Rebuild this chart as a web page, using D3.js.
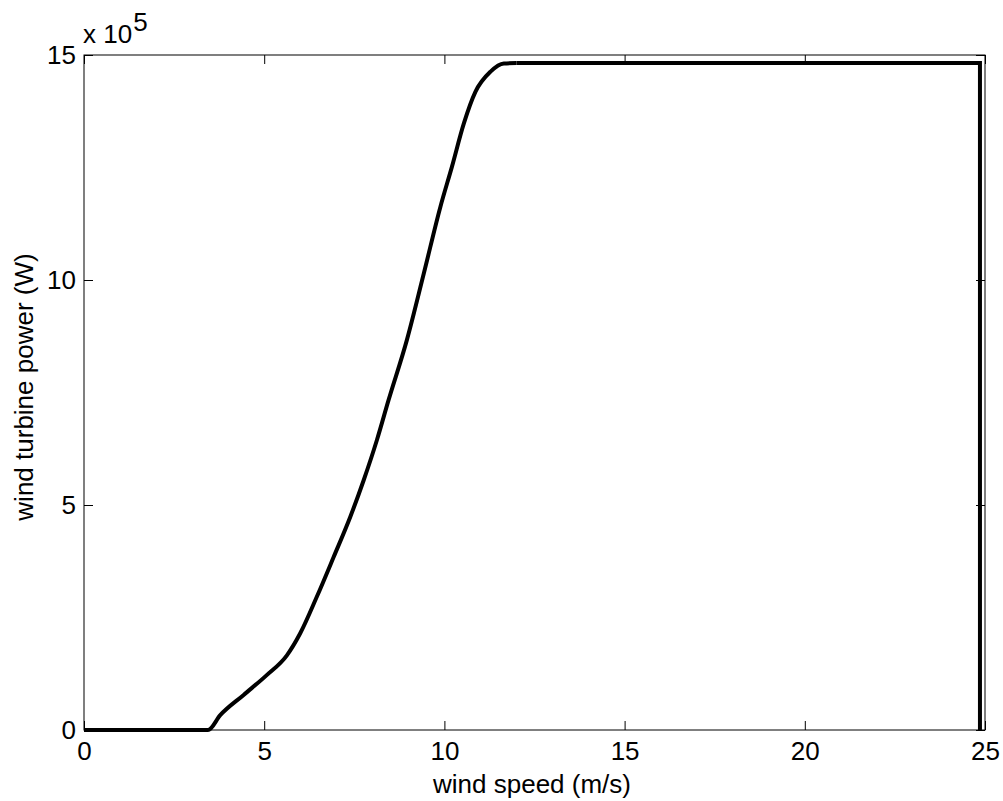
<!DOCTYPE html>
<html>
<head>
<meta charset="utf-8">
<script src="https://cdn.jsdelivr.net/npm/d3@7/dist/d3.min.js"></script>
<style>
  html, body { margin: 0; padding: 0; background: #fff; }
  svg { display: block; }
  text { font-family: "Liberation Sans", Arial, Helvetica, sans-serif; fill: #000; }
</style>
</head>
<body>
<svg id="chart" width="1003" height="801"></svg>
<script>
// ---- data ----
const windSpeed = [0, 3.44, 3.78, 4.43, 5.07, 5.63, 6.0, 6.46, 6.93, 7.39, 7.76, 8.13, 8.45, 8.96, 9.43, 9.89, 10.21, 10.54, 10.86, 11.28, 11.65, 12.0, 24.86, 24.86];
const powerW    = [0, 0, 0.33e5, 0.78e5, 1.22e5, 1.66e5, 2.15e5, 2.96e5, 3.85e5, 4.74e5, 5.55e5, 6.45e5, 7.33e5, 8.67e5, 10.15e5, 11.63e5, 12.52e5, 13.48e5, 14.18e5, 14.63e5, 14.81e5, 14.82e5, 14.82e5, 0];
const xTicks = [0, 5, 10, 15, 20, 25];
const yTicks = [0, 5e5, 10e5, 15e5];
const xLabel = "wind speed (m/s)";
const yLabel = "wind turbine power (W)";

const svg = d3.select("#chart");
const L = 84, R = 985, T = 55, B = 730;
const fs = 26;

const x = d3.scaleLinear().domain([0, 25]).range([L, R]);
const y = d3.scaleLinear().domain([0, 15e5]).range([B, T]);

// box
svg.append("rect").attr("x", L).attr("y", T).attr("width", R - L).attr("height", B - T)
  .attr("fill", "none").attr("stroke", "#000").attr("stroke-width", 1);

const styleAxis = g => {
  g.select(".domain").remove();
  g.selectAll(".tick line").attr("stroke", "#000").attr("stroke-width", 1);
  g.selectAll("text").attr("font-size", fs).attr("font-family", '"Liberation Sans", Arial, sans-serif').attr("fill", "#000");
};

svg.append("g").attr("transform", `translate(0,${B})`)
  .call(d3.axisBottom(x).tickValues(xTicks).tickSize(-9).tickPadding(12).tickFormat(d3.format("d")))
  .call(styleAxis);
svg.append("g").attr("transform", `translate(0,${T})`)
  .call(d3.axisTop(x).tickValues(xTicks).tickSize(-9).tickFormat(""))
  .call(styleAxis);
svg.append("g").attr("transform", `translate(${L},0)`)
  .call(d3.axisLeft(y).tickValues(yTicks).tickSize(-9).tickPadding(8).tickFormat(d => d3.format("d")(d / 1e5)))
  .call(styleAxis);
svg.append("g").attr("transform", `translate(${R},0)`)
  .call(d3.axisRight(y).tickValues(yTicks).tickSize(-9).tickFormat(""))
  .call(styleAxis);

// exponent label
const ex = svg.append("text").attr("x", L - 1).attr("y", 43).attr("font-size", fs);
ex.append("tspan").text("x 10");
ex.append("tspan").attr("dy", -12).attr("dx", 1).text("5");

// axis labels
svg.append("text").attr("x", 532).attr("y", 793).attr("text-anchor", "middle")
  .attr("font-size", fs).text(xLabel);
svg.append("text").attr("transform", `translate(33,387) rotate(-90)`).attr("text-anchor", "middle")
  .attr("font-size", fs).text(yLabel);

// curve: smooth rising part (monotone) + plateau and cut-out drop (straight)
const pts = windSpeed.map((v, i) => [v, powerW[i]]);
const lastSmooth = 21;
const rising = pts.slice(0, lastSmooth + 1);
const tail = pts.slice(lastSmooth);
svg.append("path").datum(rising)
  .attr("fill", "none").attr("stroke", "#000").attr("stroke-width", 4)
  .attr("stroke-linejoin", "round").attr("stroke-linecap", "butt")
  .attr("d", d3.line().curve(d3.curveMonotoneX).x(d => x(d[0])).y(d => y(d[1])));
svg.append("path").datum(tail)
  .attr("fill", "none").attr("stroke", "#000").attr("stroke-width", 4)
  .attr("stroke-linejoin", "miter").attr("stroke-linecap", "butt")
  .attr("d", d3.line().x(d => x(d[0])).y(d => y(d[1])));
</script>
</body>
</html>
